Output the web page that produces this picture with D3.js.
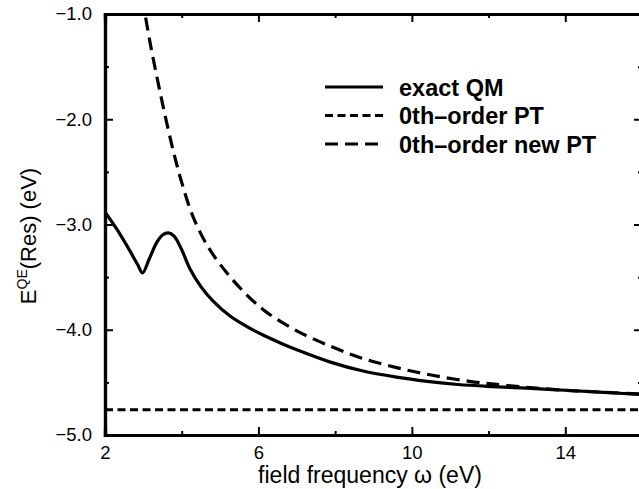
<!DOCTYPE html>
<html><head><meta charset="utf-8">
<script src="https://cdn.jsdelivr.net/npm/d3@7"></script>
<style>body{margin:0;background:#fff}svg{display:block}text{font-family:"Liberation Sans",Arial,sans-serif}</style>
</head><body>
<svg id="c" width="639" height="489"></svg>
<script>
const exactW = [2.0,2.3,2.6,2.85,2.98,3.15,3.35,3.5,3.65,3.8,4.0,4.2,4.5,4.8,5.26,5.7,6.12,6.6,7.0,7.9,8.7,9.6,10.4,11.2,12.1,13,14,15,16];
const exactE = [-2.88,-3.04,-3.22,-3.38,-3.46,-3.33,-3.17,-3.10,-3.08,-3.11,-3.24,-3.41,-3.59,-3.72,-3.87,-3.97,-4.05,-4.13,-4.19,-4.31,-4.39,-4.45,-4.49,-4.52,-4.54,-4.555,-4.575,-4.595,-4.615];
const newW = [2.95,3.04,3.2,3.4,3.6,3.8,4.0,4.3,4.7,5.2,5.7,6.2,7.0,7.9,8.7,9.6,10.5,11.5,12.5,14,16];
const newE = [-0.85,-1.0,-1.32,-1.68,-2.02,-2.33,-2.60,-2.93,-3.22,-3.47,-3.67,-3.83,-4.01,-4.16,-4.27,-4.36,-4.43,-4.49,-4.53,-4.575,-4.61];
const ptW = [2,16];
const ptE = [-4.76,-4.76];
const xTicks = [2,6,10,14];
const xMinor = [4,8,12,16];
const yTicks = [-5,-4,-3,-2,-1];
const yMinor = [-4.5,-3.5,-2.5,-1.5];
const legendLabels = ["exact QM","0th\u2013order PT","0th\u2013order new PT"];

(function(){
const svg = d3.select("#c");
const L=105,R=642,T=14,B=435;
const x = d3.scaleLinear().domain([2,16]).range([L,R]);
const y = d3.scaleLinear().domain([-5,-1]).range([B,T]);

svg.append("clipPath").attr("id","pc").append("rect").attr("x",L).attr("y",T).attr("width",R-L).attr("height",B-T);
const g = svg.append("g").attr("clip-path","url(#pc)");
const line = d3.line().x(d=>x(d[0])).y(d=>y(d[1])).curve(d3.curveCatmullRom.alpha(0.5));
const series = [
  {w:exactW,e:exactE,dash:null},
  {w:ptW,e:ptE,dash:"8,4.5"},
  {w:newW,e:newE,dash:"13,7"}
];
series.forEach(s=>{
  g.append("path").datum(s.w.map((v,i)=>[v,s.e[i]])).attr("d",line)
   .attr("fill","none").attr("stroke","#000").attr("stroke-width",3.2)
   .attr("stroke-dasharray",s.dash);
});

const fmt = d3.format(".1f");
const axB = d3.axisBottom(x).tickValues(xTicks).tickSize(-8).tickPadding(11).tickFormat(d3.format("d"));
const axT = d3.axisTop(x).tickValues(xTicks).tickSize(-8).tickFormat("");
const axL = d3.axisLeft(y).tickValues(yTicks).tickSize(-8).tickPadding(13).tickFormat(d=>fmt(d).replace("-","\u2212"));
const axR = d3.axisRight(y).tickValues(yTicks).tickSize(-8).tickFormat("");
const axBm = d3.axisBottom(x).tickValues(xMinor).tickSize(-4).tickFormat("");
const axTm = d3.axisTop(x).tickValues(xMinor).tickSize(-4).tickFormat("");
const axLm = d3.axisLeft(y).tickValues(yMinor).tickSize(-4).tickFormat("");
const axRm = d3.axisRight(y).tickValues(yMinor).tickSize(-4).tickFormat("");
const axes = [
  [axB,`translate(0,${B})`],[axT,`translate(0,${T})`],[axL,`translate(${L},0)`],[axR,`translate(${R},0)`],
  [axBm,`translate(0,${B})`],[axTm,`translate(0,${T})`],[axLm,`translate(${L},0)`],[axRm,`translate(${R},0)`]
];
axes.forEach(([a,t])=>{
  const gg = svg.append("g").attr("transform",t).call(a);
  gg.select(".domain").attr("stroke","#000").attr("stroke-width",3.2);
  gg.selectAll(".tick line").attr("stroke","#000").attr("stroke-width",2);
  gg.selectAll(".tick text").attr("fill","#000").style("font-size","18.5px").style("font-family","'Liberation Sans',Arial,sans-serif");
});

svg.append("text").attr("x",370).attr("y",483).attr("text-anchor","middle")
  .style("font-size","23px").text("field frequency \u03c9 (eV)");
const yt = svg.append("text").attr("transform","translate(36,236) rotate(-90)").attr("text-anchor","middle")
  .style("font-size","22px");
yt.append("tspan").text("E");
yt.append("tspan").attr("dy",-9).style("font-size","14px").text("QE");
yt.append("tspan").attr("dy",9).text("(Res) (eV)");

const leg = svg.append("g");
const ly = [87,115.5,144];
legendLabels.forEach((lab,i)=>{
  leg.append("line").attr("x1",325).attr("x2",383).attr("y1",ly[i]).attr("y2",ly[i])
    .attr("stroke","#000").attr("stroke-width",3.2).attr("stroke-dasharray",series[i].dash);
  leg.append("text").attr("x",399).attr("y",ly[i]+8.5).style("font-size","23.5px").style("font-weight","bold").text(lab);
});
})();
</script>
</body></html>
